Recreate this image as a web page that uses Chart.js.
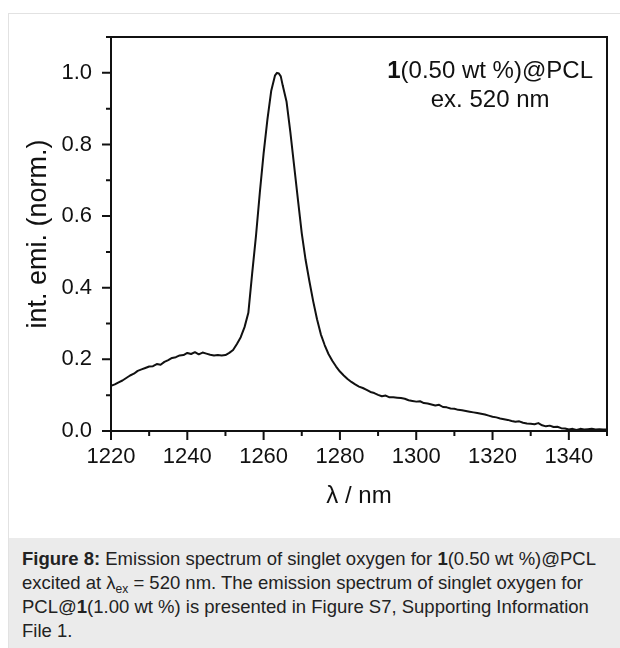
<!DOCTYPE html>
<html><head><meta charset="utf-8">
<script src="https://cdn.jsdelivr.net/npm/chart.js@4/dist/chart.umd.min.js"></script>
<style>
html,body{margin:0;padding:0;background:#fff;width:620px;height:648px;overflow:hidden;font-family:"Liberation Sans",Arial,sans-serif;}
#frame{position:absolute;left:8px;top:13px;width:700px;height:700px;border-left:1px solid #e2e2e2;border-top:1px solid #e2e2e2;}
#wrap{position:absolute;left:0;top:0;width:620px;height:530px;}
#cap{position:absolute;left:9px;top:538px;width:611px;height:110px;background:#ebebeb;color:#222;font-size:18.5px;line-height:24px;padding:9px 6px 0 13px;box-sizing:border-box;}
#cap sub{font-size:12px;line-height:0;vertical-align:-4px;}
</style></head><body>
<div id="frame"></div>
<div id="wrap"><canvas id="c" width="620" height="530"></canvas></div>
<div id="cap"><b>Figure 8:</b> Emission spectrum of singlet oxygen for <b>1</b>(0.50 wt %)@PCL excited at λ<sub>ex</sub> = 520 nm. The emission spectrum of singlet oxygen for PCL@<b>1</b>(1.00 wt %) is presented in Figure S7, Supporting Information File 1.</div>
<script>
const wavelengths = [1220,1221,1222,1223,1224,1225,1226,1227,1228,1229,1230,1231,1232,1233,1234,1235,1236,1237,1238,1239,1240,1241,1242,1243,1244,1245,1246,1247,1248,1249,1250,1251,1252,1253,1254,1255,1256,1257,1258,1259,1260,1261,1262,1263,1263.5,1264,1264.5,1265,1266,1267,1268,1269,1270,1271,1272,1273,1274,1275,1276,1277,1278,1279,1280,1281,1282,1283,1284,1285,1286,1287,1288,1289,1290,1291,1292,1293,1294,1295,1296,1297,1298,1299,1300,1301,1302,1303,1304,1305,1306,1307,1308,1309,1310,1311,1312,1313,1314,1315,1316,1317,1318,1319,1320,1321,1322,1323,1324,1325,1326,1327,1328,1329,1330,1331,1332,1333,1334,1335,1336,1337,1338,1339,1340,1341,1342,1343,1344,1345,1346,1347,1348,1349,1350];
const intensity = [0.126,0.130,0.136,0.141,0.148,0.155,0.160,0.168,0.172,0.176,0.180,0.181,0.187,0.185,0.193,0.198,0.204,0.206,0.211,0.212,0.218,0.215,0.220,0.214,0.219,0.216,0.213,0.211,0.212,0.211,0.212,0.218,0.226,0.243,0.262,0.290,0.330,0.440,0.545,0.665,0.775,0.870,0.950,0.993,1.000,0.998,0.990,0.965,0.920,0.835,0.740,0.645,0.552,0.478,0.418,0.362,0.312,0.270,0.240,0.215,0.196,0.180,0.166,0.155,0.145,0.137,0.130,0.124,0.120,0.115,0.109,0.106,0.101,0.097,0.099,0.094,0.094,0.093,0.092,0.090,0.086,0.084,0.082,0.083,0.078,0.077,0.074,0.071,0.073,0.067,0.066,0.063,0.062,0.059,0.058,0.056,0.054,0.052,0.050,0.048,0.046,0.043,0.040,0.038,0.035,0.033,0.031,0.028,0.026,0.027,0.023,0.021,0.020,0.019,0.022,0.016,0.013,0.015,0.011,0.012,0.008,0.007,0.004,0.006,0.003,0.006,0.004,0.005,0.006,0.004,0.005,0.004,0.004];
const xTickLabels = [1220,1240,1260,1280,1300,1320,1340];
const xMinorTicks = [1230,1250,1270,1290,1310,1330,1350];
const yTickLabels = [0.0,0.2,0.4,0.6,0.8,1.0];
const yMinorTicks = [0.1,0.3,0.5,0.7,0.9,1.1];
const xTitle = 'λ / nm';
const yTitle = 'int. emi. (norm.)';
const noteBold = '1';
const noteRest = '(0.50 wt %)@PCL';
const noteLine2 = 'ex. 520 nm';

const FONT = '"Liberation Sans", Arial, Helvetica, sans-serif';
const INK = '#111';

const framePlugin = {
  id: 'framePlugin',
  afterDraw(chart) {
    const {ctx, chartArea: a, scales: {x, y}} = chart;
    ctx.save();
    ctx.strokeStyle = INK;
    ctx.lineWidth = 2;
    ctx.strokeRect(a.left, a.top, a.right - a.left, a.bottom - a.top);
    ctx.beginPath();
    xTickLabels.forEach(v => { const p = x.getPixelForValue(v); ctx.moveTo(p, a.bottom); ctx.lineTo(p, a.bottom + 9); });
    xMinorTicks.forEach(v => { const p = x.getPixelForValue(v); ctx.moveTo(p, a.bottom); ctx.lineTo(p, a.bottom + 5); });
    yTickLabels.forEach(v => { const p = y.getPixelForValue(v); ctx.moveTo(a.left, p); ctx.lineTo(a.left - 9, p); });
    yMinorTicks.forEach(v => { const p = y.getPixelForValue(v); ctx.moveTo(a.left, p); ctx.lineTo(a.left - 5, p); });
    ctx.stroke();
    // annotation
    ctx.fillStyle = INK;
    ctx.textBaseline = 'alphabetic';
    ctx.font = 'bold 24px ' + FONT;
    const wb = ctx.measureText(noteBold).width;
    ctx.font = '24px ' + FONT;
    const wr = ctx.measureText(noteRest).width;
    const right = a.right - 14;
    const left = right - wb - wr;
    const base1 = y.getPixelForValue(1.0) + 5;
    ctx.textAlign = 'left';
    ctx.font = 'bold 24px ' + FONT;
    ctx.fillText(noteBold, left, base1);
    ctx.font = '24px ' + FONT;
    ctx.fillText(noteRest, left + wb, base1);
    ctx.textAlign = 'center';
    ctx.fillText(noteLine2, (left + right) / 2, base1 + 29);
    ctx.restore();
  }
};

new Chart(document.getElementById('c'), {
  type: 'line',
  data: {
    datasets: [{
      data: wavelengths.map((w, i) => ({x: w, y: intensity[i]})),
      borderColor: INK,
      borderWidth: 2,
      pointRadius: 0,
      tension: 0,
      fill: false,
      borderJoinStyle: 'round'
    }]
  },
  options: {
    responsive: false,
    animation: false,
    devicePixelRatio: 1,
    layout: {padding: {left: 0, top: 37, right: 13, bottom: 0}},
    plugins: {legend: {display: false}, tooltip: {enabled: false}},
    scales: {
      x: {
        type: 'linear', min: 1220, max: 1350,
        border: {display: false},
        grid: {display: false, drawTicks: false},
        afterBuildTicks: s => { s.ticks = xTickLabels.map(v => ({value: v})); },
        afterFit: s => { s.height = 99; },
        ticks: {autoSkip: false, maxRotation: 0, padding: 13, color: INK, font: {family: FONT, size: 22}, callback: v => String(v)},
        title: {display: true, text: xTitle, color: INK, font: {family: FONT, size: 24}, padding: {top: 0, bottom: 19}}
      },
      y: {
        type: 'linear', min: 0, max: 1.1,
        border: {display: false},
        grid: {display: false, drawTicks: false},
        afterBuildTicks: s => { s.ticks = yTickLabels.map(v => ({value: v})); },
        afterFit: s => { s.width = 111; },
        ticks: {padding: 19, color: INK, font: {family: FONT, size: 22}, callback: v => Number(v).toFixed(1)},
        title: {display: true, text: yTitle, color: INK, font: {family: FONT, size: 27}, padding: {top: 22, bottom: 0}}
      }
    }
  },
  plugins: [framePlugin]
});
</script>
</body></html>
